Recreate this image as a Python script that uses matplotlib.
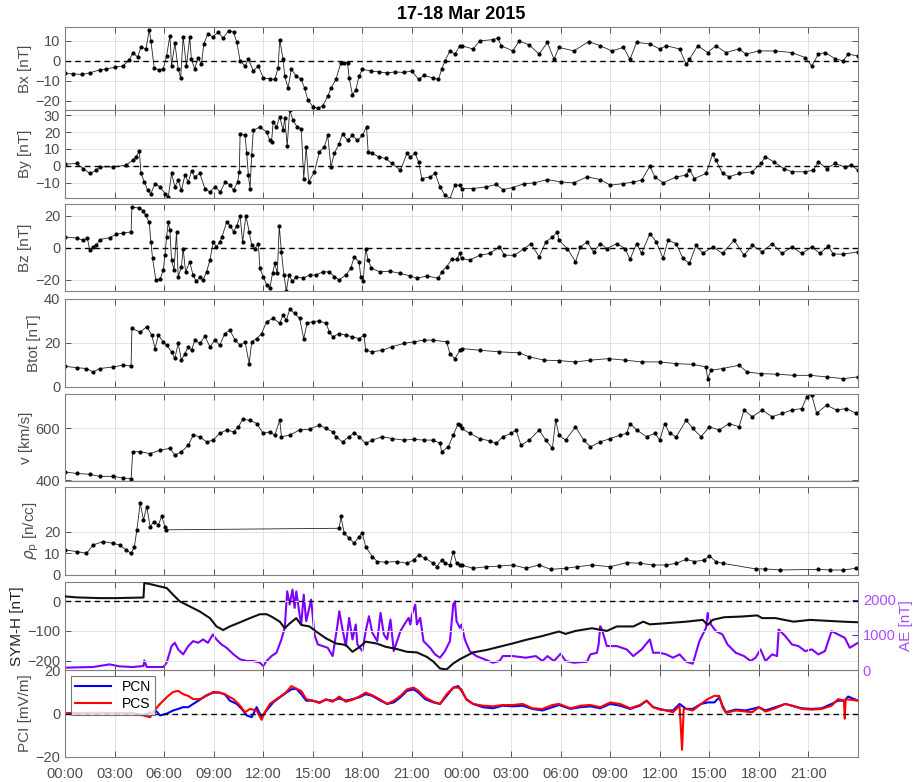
import numpy as np
import matplotlib
matplotlib.use("Agg")
import matplotlib.pyplot as plt

plt.rcParams["font.family"] = ["Liberation Sans", "DejaVu Sans"]

# time in hours from 17 Mar 2015 00:00 UT
BX = [(0, -6.3), (0.5, -6.5), (1.0, -6.8), (1.5, -6.0), (2.1, -4.5), (2.5, -4.0), (3.0, -3.2),
      (3.5, -2.5), (3.9, 0.5), (4.1, 4.0), (4.4, 2.0), (4.6, 7.0), (4.9, 6.0), (5.1, 15.6),
      (5.2, 10.0), (5.4, -3.4), (5.7, -4.6), (5.95, -4.0), (6.15, 2.5), (6.35, 12.7), (6.45, -2.5),
      (6.65, 9.0), (6.85, -4.0), (7.0, -8.5), (7.15, 12.0), (7.35, -2.5), (7.55, 12.0), (7.65, 0.8),
      (7.85, -4.0), (8.05, 1.7), (8.26, -1.7), (8.4, 8.5), (8.65, 13.6), (8.95, 12.0), (9.27, 14.4),
      (9.57, 11.4), (9.9, 15.2), (10.2, 14.4), (10.4, 9.3), (10.6, 0.0), (10.9, -2.5), (11.1, 0.8),
      (11.4, -5.0), (11.7, -2.5), (12.0, -8.5), (12.4, -9.0), (12.7, -9.3), (12.9, -3.4), (13.0, 10.7),
      (13.2, 0.8), (13.3, -7.6), (13.5, -13.6), (13.7, -4.2), (14.0, -7.6), (14.3, -9.3), (14.5, -13.6),
      (14.7, -19.5), (15.0, -22.9), (15.3, -23.7), (15.6, -22.5), (15.9, -17.8), (16.1, -13.6),
      (16.4, -9.3), (16.7, -0.8), (16.9, -0.8), (17.1, -0.8), (17.2, -8.5), (17.4, -17.0), (17.6, -14.4),
      (17.8, -7.6), (18.0, -4.2), (18.5, -5.0), (19.0, -5.5), (19.5, -6.0), (20.0, -5.5), (20.5, -5.8),
      (21.0, -5.0), (21.4, -9.3), (21.7, -7.3), (22.3, -8.5), (22.6, -9.3), (22.8, -4.2), (23.0, 0.0),
      (23.3, 5.0), (23.6, 3.4), (23.9, 7.6), (24.0, 7.6), (24.7, 6.0), (25.1, 10.0), (25.9, 10.7),
      (26.2, 11.4), (26.4, 7.6), (27.1, 5.0), (27.5, 10.0), (28.1, 8.0), (28.7, 3.4), (29.2, 9.3),
      (29.6, 0.8), (29.9, 6.8), (30.8, 5.0), (31.7, 9.7), (32.4, 7.6), (33.1, 5.0), (33.8, 6.8),
      (34.2, 0.8), (34.6, 9.3), (35.4, 8.5), (36.0, 6.0), (36.4, 7.6), (37.2, 6.0), (37.6, -1.7),
      (37.8, 0.8), (38.3, 7.6), (38.9, 4.2), (39.4, 7.6), (40.0, 4.2), (40.8, 6.0), (41.2, 3.4),
      (42.0, 5.0), (43.0, 5.0), (44.0, 4.2), (44.8, 1.7), (45.2, -2.5), (45.6, 3.4), (46.0, 4.2),
      (46.6, 1.2), (47.1, 0.0), (47.4, 3.4), (48.0, 2.5)]

BY = [(0, 1.0), (0.7, 1.4), (1.1, -1.6), (1.5, -4.5), (1.9, -2.6), (2.1, -0.6), (2.9, -0.6),
      (3.7, 0.4), (4.1, 3.4), (4.3, 5.3), (4.5, 8.7), (4.6, -4.5), (4.8, -9.5), (5.0, -14.4),
      (5.2, -16.4), (5.45, -10.5), (5.75, -12.4), (6.05, -16.4), (6.25, -18.3), (6.45, -4.5),
      (6.65, -12.4), (6.85, -8.5), (7.05, -14.4), (7.26, -5.5), (7.46, -9.5), (7.66, -3.0),
      (7.86, -6.5), (8.16, -4.5), (8.47, -13.4), (8.77, -15.4), (9.07, -12.4), (9.4, -15.4),
      (9.7, -9.5), (10.0, -11.4), (10.2, -14.4), (10.45, -9.5), (10.55, -3.5), (10.6, 19.0),
      (10.9, 18.0), (11.0, 7.3), (11.1, -5.5), (11.2, -13.4), (11.3, 6.3), (11.4, 21.0), (11.8, 23.0),
      (12.2, 20.0), (12.4, 15.0), (12.5, 14.0), (12.6, 26.0), (12.8, 23.0), (13.0, 29.0), (13.2, 21.0),
      (13.3, 28.0), (13.45, 11.8), (13.6, 33.0), (13.8, 27.0), (14.05, 23.0), (14.3, 22.0),
      (14.45, -7.5), (14.6, 11.2), (14.75, -9.5), (15.1, -3.5), (15.4, 8.3), (15.7, 11.2), (15.9, 18.0),
      (16.1, -0.6), (16.3, 7.3), (16.6, 13.2), (16.8, 19.0), (17.1, 15.0), (17.4, 18.0), (17.7, 15.0),
      (18.0, 18.0), (18.25, 23.0), (18.35, 8.3), (18.6, 7.3), (19.0, 5.3), (19.4, 4.4), (19.8, 1.4),
      (20.3, -2.6), (20.7, 7.3), (20.9, 5.3), (21.2, 7.3), (21.4, 2.4), (21.6, -7.5), (22.1, -6.5),
      (22.4, -4.5), (22.7, -12.4), (23.0, -17.4), (23.3, -19.3), (23.6, -11.4), (23.9, -11.4),
      (24.0, -13.4), (24.7, -13.4), (25.5, -12.4), (26.1, -11.0), (26.5, -14.0), (27.1, -12.8),
      (27.8, -10.5), (28.4, -10.1), (29.2, -8.1), (30.0, -9.5), (30.8, -10.1), (31.6, -6.5),
      (32.4, -8.1), (33.0, -11.4), (33.8, -10.5), (34.4, -9.5), (34.9, -8.5), (35.4, -0.2),
      (35.7, -6.5), (36.2, -10.1), (37.0, -6.5), (37.6, -5.5), (37.8, -2.2), (38.1, -7.5),
      (38.8, -4.5), (39.2, 6.9), (39.4, 3.4), (39.8, -4.5), (40.2, -6.5), (40.8, -4.5), (41.6, -3.5),
      (42.1, 1.4), (42.4, 5.3), (42.9, 2.4), (43.5, -1.6), (44.0, -3.5), (44.8, -3.5), (45.3, -2.6),
      (45.6, 2.4), (46.1, -1.6), (46.6, 1.4), (47.2, -0.6), (47.6, 0.4), (48.0, -2.6)]

BZ = [(0, 6.8), (0.7, 6.2), (1.1, 4.8), (1.35, 6.2), (1.5, -1.4), (1.7, 0.6), (1.9, 1.7), (2.1, 5.2),
      (2.7, 6.4), (3.1, 8.5), (3.5, 9.3), (4.0, 10.0), (4.05, 25.5), (4.5, 25.0), (4.7, 23.4),
      (4.9, 20.3), (5.1, 16.0), (5.2, 3.7), (5.3, -6.6), (5.5, -20.0), (5.75, -19.6), (5.95, -13.9),
      (6.05, -4.6), (6.15, 6.8), (6.25, 16.0), (6.35, 11.0), (6.45, -7.7), (6.6, -13.9), (6.75, 10.0),
      (6.85, -18.0), (7.05, -11.8), (7.15, -0.4), (7.3, -15.0), (7.55, -8.7), (7.75, -17.0),
      (7.95, -21.0), (8.16, -18.4), (8.36, -20.0), (8.57, -15.0), (8.77, -7.7), (8.97, 3.7), (9.17, 0.6),
      (9.37, 3.7), (9.5, 6.8), (9.78, 16.0), (10.0, 14.0), (10.2, 10.0), (10.4, 14.0), (10.6, 20.0),
      (10.75, 3.7), (10.95, 20.0), (11.15, 10.0), (11.3, 1.7), (11.5, -0.4), (11.7, 2.7), (11.8, -12.8),
      (12.0, -18.0), (12.2, -23.0), (12.4, -25.0), (12.56, -16.0), (12.7, -9.7), (12.85, -16.0),
      (12.97, 13.7), (13.1, -2.5), (13.25, -17.0), (13.4, -27.0), (13.55, -17.0), (13.77, -21.0),
      (14.0, -18.0), (14.4, -19.0), (14.8, -17.0), (15.2, -17.0), (15.6, -15.0), (16.0, -15.0),
      (16.3, -18.0), (16.6, -20.0), (17.0, -17.0), (17.3, -12.8), (17.5, -5.6), (17.8, -8.7),
      (17.9, -18.0), (18.05, -21.0), (18.2, -0.4), (18.35, -7.7), (18.55, -12.8), (19.05, -15.0),
      (19.65, -14.6), (20.3, -16.0), (20.9, -17.6), (21.3, -19.0), (21.9, -17.6), (22.6, -19.0),
      (22.8, -15.0), (23.1, -11.8), (23.4, -7.2), (23.7, -7.2), (23.9, -3.5), (24.0, -6.6),
      (24.5, -7.7), (25.1, -4.6), (25.7, -3.5), (26.3, 0.6), (26.6, -4.6), (27.2, -4.6), (27.8, -0.4),
      (28.2, 2.7), (28.7, -5.6), (29.1, 3.7), (29.5, 6.8), (29.8, 10.0), (29.9, 4.8), (30.4, -0.4),
      (30.9, -8.7), (31.2, 0.6), (31.6, 3.7), (32.0, -2.5), (32.4, 2.7), (32.8, -0.4), (33.4, 2.7),
      (33.9, -0.4), (34.2, -7.2), (34.6, 2.7), (34.9, -3.5), (35.4, 8.9), (35.8, 3.7), (36.2, -6.6),
      (36.5, 4.8), (37.0, 2.7), (37.4, -6.6), (37.8, -9.7), (38.2, 1.7), (38.6, -3.5), (39.2, 0.6),
      (39.8, -3.5), (40.5, 4.8), (41.1, -4.6), (41.6, 1.7), (42.2, -2.5), (42.8, 2.7), (43.4, -3.5),
      (44.0, 0.6), (44.6, -3.5), (45.2, 0.6), (45.7, -3.5), (46.2, 1.2), (46.5, -3.9), (47.1, -3.9),
      (48.0, -2.5)]

BTOT = [(0, 9.4), (0.7, 8.8), (1.3, 8.4), (1.7, 6.8), (2.1, 8.4), (2.9, 9.1), (3.5, 9.9), (4.0, 9.6),
        (4.05, 26.6), (4.55, 25.0), (4.95, 27.4), (5.25, 23.6), (5.45, 17.5), (5.65, 23.6),
        (5.95, 20.5), (6.15, 19.0), (6.45, 16.0), (6.65, 13.0), (6.85, 19.8), (7.05, 12.2),
        (7.26, 15.2), (7.46, 18.3), (7.66, 16.7), (7.86, 21.3), (8.16, 19.8), (8.47, 23.0),
        (8.77, 18.3), (9.07, 21.3), (9.37, 19.0), (9.67, 24.3), (9.98, 25.8), (10.3, 21.3),
        (10.6, 19.0), (10.9, 20.5), (11.15, 10.6), (11.3, 20.5), (11.6, 22.0), (11.9, 24.3),
        (12.2, 29.7), (12.6, 31.2), (13.0, 29.0), (13.2, 32.7), (13.4, 30.4), (13.6, 35.3),
        (13.9, 33.5), (14.2, 31.2), (14.45, 22.0), (14.65, 29.0), (15.0, 29.7), (15.4, 30.1),
        (15.8, 28.9), (16.0, 25.1), (16.2, 22.8), (16.6, 24.3), (17.0, 23.6), (17.4, 22.8),
        (17.8, 22.0), (18.1, 23.6), (18.2, 16.7), (18.6, 16.0), (19.2, 16.7), (19.8, 18.3),
        (20.5, 19.8), (21.1, 20.5), (21.7, 21.3), (22.3, 21.3), (23.1, 20.5), (23.3, 15.2),
        (23.6, 12.9), (23.9, 16.7), (24.0, 17.5), (25.1, 16.7), (26.3, 16.0), (27.5, 15.5),
        (28.1, 13.7), (29.0, 12.2), (29.9, 12.0), (30.9, 11.4), (31.8, 12.2), (32.9, 12.9),
        (33.9, 12.2), (34.9, 11.4), (36.0, 11.4), (37.0, 10.6), (38.0, 10.3), (38.8, 9.1), (38.9, 3.8),
        (39.1, 7.6), (39.8, 8.4), (40.8, 9.9), (41.3, 6.8), (42.1, 6.1), (43.1, 5.8), (44.1, 5.3),
        (45.1, 5.3), (46.1, 4.6), (47.1, 3.8), (48.0, 4.6)]

VSW = [(0, 432), (0.7, 426), (1.5, 423), (2.1, 415), (2.9, 415), (3.5, 409), (4.0, 406), (4.1, 510),
       (4.55, 510), (5.15, 503), (5.75, 516), (6.35, 523), (6.65, 497), (7.05, 510), (7.46, 535),
       (7.76, 574), (8.16, 568), (8.57, 548), (8.97, 555), (9.37, 581), (9.78, 594), (10.2, 587),
       (10.5, 606), (10.75, 635), (11.2, 632), (11.6, 619), (12.0, 581), (12.4, 587), (12.7, 574),
       (13.0, 632), (13.1, 568), (13.6, 574), (14.2, 594), (14.8, 597), (15.4, 613), (15.8, 600),
       (16.2, 587), (16.4, 568), (16.8, 548), (17.2, 568), (17.5, 583), (17.8, 568), (18.2, 542),
       (18.6, 555), (19.2, 568), (19.8, 561), (20.5, 555), (21.1, 558), (21.7, 555), (22.3, 555),
       (22.7, 542), (22.8, 510), (23.2, 529), (23.5, 574), (23.8, 619), (23.9, 613), (24.0, 600),
       (24.5, 581), (25.1, 561), (25.7, 552), (26.1, 542), (26.5, 568), (27.0, 581), (27.3, 594),
       (27.6, 535), (28.1, 555), (28.7, 594), (29.1, 555), (29.5, 523), (29.7, 632), (29.9, 574),
       (30.3, 555), (30.9, 606), (31.4, 555), (31.8, 529), (32.4, 548), (33.0, 561), (33.6, 574),
       (34.0, 581), (34.2, 619), (34.6, 594), (35.2, 568), (35.7, 581), (36.0, 555), (36.3, 619),
       (36.6, 581), (37.0, 568), (37.6, 632), (38.0, 600), (38.5, 568), (39.0, 606), (39.6, 594),
       (40.2, 619), (40.8, 606), (41.1, 671), (41.6, 645), (42.2, 671), (42.8, 645), (43.4, 658),
       (44.0, 671), (44.6, 677), (44.9, 723), (45.2, 729), (45.5, 658), (46.1, 690), (46.7, 671),
       (47.3, 677), (47.9, 658)]

RHO = [(0, 11.5), (0.7, 10.8), (1.3, 10.0), (1.7, 13.8), (2.3, 15.4), (2.9, 14.6), (3.3, 13.8),
       (3.7, 11.5), (4.0, 10.0), (4.2, 13.0), (4.35, 20.8), (4.55, 33.0), (4.75, 25.4), (4.95, 31.5),
       (5.15, 22.3), (5.4, 24.6), (5.65, 23.0), (5.85, 27.0), (6.05, 22.3), (6.1, 20.8),
       (16.6, 21.5), (16.7, 27.0), (16.9, 19.2), (17.2, 17.0), (17.5, 14.6), (17.8, 17.7), (18.0, 19.2),
       (18.2, 13.0), (18.6, 8.5), (18.9, 6.2), (19.4, 5.9), (20.1, 6.2), (20.7, 5.4), (21.1, 6.9),
       (21.4, 9.2), (21.8, 7.7), (22.3, 5.4), (22.5, 3.8), (22.8, 6.9), (23.0, 5.4), (23.3, 4.6),
       (23.5, 10.8), (23.7, 5.4), (23.9, 4.6), (24.0, 4.6), (24.7, 3.1), (25.5, 3.8), (26.3, 4.1),
       (27.1, 4.6), (27.9, 3.1), (28.7, 4.6), (29.4, 2.6), (30.3, 3.1), (31.0, 3.8), (31.9, 4.6),
       (33.0, 3.8), (34.0, 5.7), (34.8, 5.4), (35.6, 4.6), (36.4, 4.6), (37.0, 5.4), (37.6, 7.2),
       (38.1, 6.2), (38.7, 6.9), (39.0, 8.8), (39.4, 6.2), (39.8, 5.4), (41.8, 2.8), (42.4, 2.8),
       (43.3, 2.3), (45.6, 2.6), (46.3, 2.3), (47.1, 2.3), (47.9, 3.1)]

SYMH = [(0, 15.7), (0.7, 12.4), (2.1, 10.0), (3.1, 10.0), (4.75, 12.0), (4.8, 60.7), (5.15, 57.0),
        (5.75, 49.0), (6.15, 44.0), (6.55, 21.0), (6.95, -1.0), (7.56, -18.0), (8.16, -35.0),
        (8.77, -57.0), (9.17, -85.0), (9.57, -97.0), (9.98, -85.0), (10.6, -71.0), (11.2, -57.0),
        (11.8, -44.0), (12.2, -44.0), (12.5, -52.0), (13.0, -69.0), (13.3, -91.0), (13.6, -75.0),
        (14.0, -57.0), (14.3, -80.0), (14.8, -85.0), (15.2, -102.0), (15.8, -125.0), (16.4, -142.0),
        (17.0, -147.0), (17.4, -170.0), (17.85, -153.0), (18.2, -136.0), (18.85, -142.0),
        (19.4, -153.0), (20.1, -161.0), (20.7, -170.0), (21.3, -172.0), (21.9, -187.0), (22.3, -203.0),
        (22.7, -226.0), (23.1, -229.0), (23.5, -209.0), (23.9, -195.0), (24.0, -192), (24.7, -172),
        (25.5, -164), (26.3, -153), (27.1, -142), (27.9, -130), (28.9, -117), (29.9, -102),
        (30.3, -110), (30.9, -100), (31.9, -91), (32.8, -100), (33.4, -85), (34.4, -85), (35.0, -69),
        (35.4, -78), (36.4, -74), (37.6, -69), (38.6, -63), (38.9, -80), (39.2, -63), (39.9, -54),
        (40.9, -52), (41.9, -48), (42.2, -57), (43.0, -57), (44.1, -69), (45.1, -63), (46.1, -66),
        (47.1, -69), (48.0, -71)]

AE = [(0, 66), (1.7, 85), (2.7, 160), (3.3, 104), (4.1, 85), (4.75, 113), (4.8, 273), (4.95, 85),
      (5.95, 85), (6.15, 207), (6.45, 679), (6.65, 773), (6.85, 585), (7.15, 443), (7.46, 679),
      (7.76, 820), (8.06, 773), (8.36, 868), (8.65, 773), (8.95, 1009), (9.17, 868), (9.47, 726),
      (9.78, 632), (10.2, 443), (10.6, 302), (11.0, 255), (11.4, 255), (11.8, 207), (12.0, 113),
      (12.2, 255), (12.5, 396), (12.8, 490), (13.1, 868), (13.3, 1198), (13.45, 2235), (13.6, 1858),
      (13.77, 2282), (13.9, 1764), (14.0, 2235), (14.2, 1575), (14.3, 1292), (14.45, 2141),
      (14.6, 1387), (14.9, 2000), (15.1, 1009), (15.3, 726), (15.6, 679), (15.9, 632), (16.2, 396),
      (16.5, 1292), (16.6, 1669), (16.8, 1150), (17.0, 679), (17.2, 1480), (17.4, 868), (17.6, 1292),
      (17.7, 726), (18.0, 537), (18.2, 1103), (18.4, 1528), (18.6, 1056), (18.9, 820), (19.1, 1622),
      (19.3, 1009), (19.5, 868), (19.7, 1433), (19.9, 537), (20.3, 1103), (20.6, 1339), (20.8, 1481),
      (20.9, 1292), (21.0, 1575), (21.2, 1858), (21.3, 1292), (21.5, 1481), (21.7, 820), (22.1, 632),
      (22.4, 443), (22.7, 349), (23.0, 537), (23.3, 820), (23.5, 1858), (23.6, 1952), (23.7, 1387),
      (23.9, 1198), (24.0, 1292), (24.2, 868), (24.5, 537), (24.9, 396), (25.4, 302), (25.9, 207),
      (26.3, 255), (26.5, 396), (27.1, 396), (27.9, 349), (28.5, 396), (28.9, 255), (29.2, 396),
      (29.6, 255), (30.0, 462), (30.3, 255), (30.8, 207), (31.6, 236), (31.8, 443), (32.2, 490),
      (32.3, 726), (32.4, 1245), (32.5, 1150), (32.8, 679), (33.4, 679), (34.0, 585), (34.4, 396),
      (34.9, 585), (35.4, 868), (35.6, 490), (36.0, 490), (36.4, 443), (36.8, 349), (37.2, 443),
      (37.6, 236), (38.0, 179), (38.4, 820), (38.8, 1198), (38.9, 1622), (39.1, 1292), (39.4, 1103),
      (39.8, 1009), (40.1, 726), (40.6, 490), (41.1, 396), (41.5, 255), (41.8, 349), (42.1, 585),
      (42.4, 255), (42.8, 443), (43.1, 396), (43.2, 1150), (43.6, 962), (44.0, 726), (44.4, 679),
      (44.8, 537), (45.2, 585), (45.6, 443), (46.0, 537), (46.4, 1103), (46.8, 1009), (47.2, 915),
      (47.5, 632), (48.0, 773)]

PCN = [(0, 0.0), (1.0, 0.2), (2.1, 0.3), (3.0, 0.1), (4.0, 0.2), (4.75, -0.6), (5.15, 0.3), (5.55, 0.9),
       (5.75, -0.9), (6.15, -0.1), (6.55, 1.4), (6.85, 2.1), (7.15, 2.9), (7.46, 2.9), (7.76, 4.4),
       (8.16, 6.3), (8.57, 8.4), (8.97, 9.6), (9.37, 9.6), (9.67, 8.9), (9.98, 5.9), (10.4, 4.4),
       (10.7, 2.1), (11.0, -0.9), (11.3, -1.7), (11.6, 2.9), (11.9, -1.7), (12.2, 1.4), (12.6, 5.1),
       (13.0, 7.4), (13.4, 9.6), (13.7, 11.1), (14.0, 11.4), (14.3, 8.9), (14.6, 5.9), (15.0, 5.9),
       (15.4, 5.1), (15.8, 6.3), (16.2, 5.9), (16.6, 6.9), (17.0, 5.9), (17.4, 6.6), (17.8, 7.4),
       (18.2, 8.9), (18.6, 8.1), (19.1, 5.9), (19.5, 4.4), (19.9, 5.1), (20.3, 7.4), (20.7, 10.4),
       (21.1, 11.1), (21.4, 9.6), (21.8, 6.6), (22.3, 5.1), (22.7, 4.4), (23.1, 8.1), (23.5, 11.9),
       (23.8, 12.6), (24.0, 10.4), (24.3, 6.6), (24.7, 4.4), (25.3, 2.9), (25.9, 2.4), (26.5, 3.6),
       (27.1, 3.3), (27.7, 3.6), (28.3, 2.1), (28.9, 1.4), (29.5, 2.9), (29.9, 3.9), (30.6, 2.1),
       (31.2, 2.9), (31.8, 3.3), (32.4, 2.4), (33.0, 4.4), (33.6, 3.6), (34.2, 2.1), (34.8, 3.6),
       (35.2, 5.9), (35.6, 2.9), (36.0, 2.1), (36.4, 1.4), (36.8, 1.4), (37.2, 4.4), (37.6, 2.1),
       (38.0, 2.1), (38.5, 4.4), (38.9, 5.1), (39.3, 5.1), (39.6, 7.4), (39.8, 3.6), (40.0, 0.6),
       (40.6, 1.8), (41.2, 1.4), (41.6, 2.1), (42.0, 2.9), (42.4, 1.4), (43.0, 2.9), (43.6, 4.4),
       (44.0, 3.6), (44.6, 2.4), (45.2, 2.1), (45.8, 2.4), (46.4, 4.4), (46.8, 5.9), (47.2, 5.9),
       (47.4, 7.8), (48.0, 5.9)]

PCS = [(0, 0.0), (1.0, 0.1), (2.1, 0.2), (3.0, 0.2), (4.0, 0.1), (4.75, -0.9), (5.15, -1.7), (5.35, 0.6),
       (5.65, 3.6), (5.95, 5.9), (6.25, 8.1), (6.55, 9.9), (6.85, 10.4), (7.15, 8.9), (7.46, 8.1),
       (7.76, 6.6), (8.16, 6.6), (8.57, 8.1), (8.97, 9.9), (9.37, 9.6), (9.78, 8.4), (10.2, 6.6),
       (10.6, 3.6), (10.9, 0.6), (11.2, 2.1), (11.6, 1.4), (11.9, -2.9), (12.1, 0.6), (12.4, 4.4),
       (12.8, 6.6), (13.1, 8.1), (13.4, 9.9), (13.7, 12.6), (14.0, 11.4), (14.3, 10.4), (14.6, 6.6),
       (15.0, 5.9), (15.4, 4.8), (15.8, 6.6), (16.2, 5.4), (16.6, 7.8), (17.0, 5.4), (17.4, 6.3),
       (17.8, 7.8), (18.2, 9.6), (18.6, 8.4), (19.1, 6.3), (19.5, 4.4), (19.9, 5.9), (20.3, 8.1),
       (20.7, 11.1), (21.1, 11.9), (21.4, 10.4), (21.8, 7.4), (22.3, 5.4), (22.7, 4.4), (23.1, 8.9),
       (23.5, 11.9), (23.8, 11.9), (24.0, 11.1), (24.3, 6.3), (24.7, 4.4), (25.3, 3.6), (25.9, 3.3),
       (26.5, 3.9), (27.1, 3.9), (27.7, 4.4), (28.3, 2.4), (28.9, 2.1), (29.5, 3.9), (29.9, 4.4),
       (30.6, 2.4), (31.2, 3.6), (31.8, 3.9), (32.4, 2.9), (33.0, 5.1), (33.6, 4.4), (34.2, 2.4),
       (34.8, 3.9), (35.2, 5.9), (35.6, 2.9), (36.0, 1.8), (36.4, 1.4), (36.8, 0.6), (37.2, 3.6),
       (37.35, -16.7), (37.45, 2.1), (37.6, 2.1), (38.0, 1.4), (38.5, 4.4), (38.9, 6.6), (39.3, 8.1),
       (39.6, 8.1), (39.8, 2.9), (40.0, 0.3), (40.6, 1.4), (41.2, 0.9), (41.6, 0.6), (42.0, 2.9),
       (42.4, 0.9), (43.0, 2.4), (43.6, 4.4), (44.0, 3.6), (44.6, 2.1), (45.2, 1.8), (45.8, 2.1),
       (46.4, 3.6), (46.8, 6.6), (47.15, 5.9), (47.2, -2.4), (47.25, 6.6), (48.0, 5.9)]

hour_ticks = list(range(0, 46, 3))
hour_labels = [f"{h % 24:02d}:00" for h in hour_ticks]


def split(pts):
    t, v = zip(*pts)
    return np.array(t), np.array(v)


GRAY = "#4d4d4d"
AE_COLOR = "#8000ff"

fig = plt.figure(figsize=(9.22, 7.82), dpi=100)
W, H = 922.0, 782.0
left, right = 65, 858


def panel(top, bottom):
    return fig.add_axes([left / W, 1 - bottom / H, (right - left) / W, (bottom - top) / H])


def style(ax, ylim, yticks, ylabel, show_x=False, right_ticks=True):
    ax.set_xlim(0, 48)
    ax.set_ylim(*ylim)
    ax.set_yticks(yticks)
    ax.set_xticks(hour_ticks)
    if show_x:
        ax.set_xticklabels(hour_labels)
    else:
        ax.set_xticklabels([])
    ax.tick_params(direction="in", length=4, width=0.7, top=True, right=right_ticks,
                   colors="#555555", labelcolor=GRAY, labelsize=10.5)
    ax.tick_params(axis="x", pad=7)
    ax.grid(True, color="#e3e3e3", lw=0.7)
    ax.set_axisbelow(True)
    for s in ax.spines.values():
        s.set_color("#808080")
        s.set_linewidth(0.8)
    ax.set_ylabel(ylabel, color=GRAY, fontsize=11, labelpad=2)


def dots(ax, pts):
    t, v = split(pts)
    ax.plot(t, v, color="#222222", lw=0.6, marker=".", ms=4, mfc="k", mec="k")


def zero(ax):
    ax.axhline(0, color="k", ls="--", lw=1.0, dashes=(4, 3))


ax = panel(27, 110)
dots(ax, BX)
zero(ax)
style(ax, (-24.6, 17), [-20, -10, 0, 10], "Bx [nT]")
ax.set_title("17-18 Mar 2015", fontsize=13, fontweight="bold", pad=6)

ax = panel(110, 198)
dots(ax, BY)
zero(ax)
style(ax, (-19, 33), [-10, 0, 10, 20, 30], "By [nT]")

ax = panel(204, 291)
dots(ax, BZ)
zero(ax)
style(ax, (-27, 27.5), [-20, 0, 20], "Bz [nT]")

ax = panel(299, 387)
dots(ax, BTOT)
style(ax, (0, 40), [0, 20, 40], "Btot [nT]")

ax = panel(394, 481)
dots(ax, VSW)
style(ax, (397, 733), [400, 600], "v [km/s]")

ax = panel(487, 575)
dots(ax, RHO)
style(ax, (0, 40.5), [0, 10, 20], r"$\rho_{\rm p}$ [n/cc]")

ax = panel(582, 670)
t, v = split(AE)
ax2 = ax.twinx()
ax2.plot(t, v, color=AE_COLOR, lw=1.5)
ax2.set_ylim(0, 2500)
ax2.set_yticks([0, 1000, 2000])
ax2.tick_params(direction="in", length=4, width=0.7, colors=AE_COLOR,
                labelcolor="#a64dff", labelsize=10.5)
ax2.set_ylabel("AE [nT]", color="#a64dff", fontsize=11, labelpad=2)
for s in ax2.spines.values():
    s.set_visible(False)
t, v = split(SYMH)
ax.plot(t, v, color="#111111", lw=1.5, zorder=3)
zero(ax)
style(ax, (-231, 64), [-200, -100, 0], "SYM-H [nT]", right_ticks=False)
ax.yaxis.label.set_color("#222222")
ax.set_zorder(ax2.get_zorder() + 1)
ax.patch.set_visible(False)

ax = panel(670, 757)
t, v = split(PCN)
ax.plot(t, v, color="#0000ff", lw=1.5, label="PCN")
t, v = split(PCS)
ax.plot(t, v, color="#ff0000", lw=1.5, label="PCS")
zero(ax)
style(ax, (-20, 20), [-20, 0, 20], "PCI [mV/m]", show_x=True)
leg = ax.legend(loc="upper left", fontsize=10, frameon=True, fancybox=False,
                borderpad=0.3, labelspacing=0.2, handlelength=2.6, borderaxespad=0.4)
leg.get_frame().set_edgecolor("#555555")
leg.get_frame().set_linewidth(0.8)

fig.savefig("out.png", dpi=100)
